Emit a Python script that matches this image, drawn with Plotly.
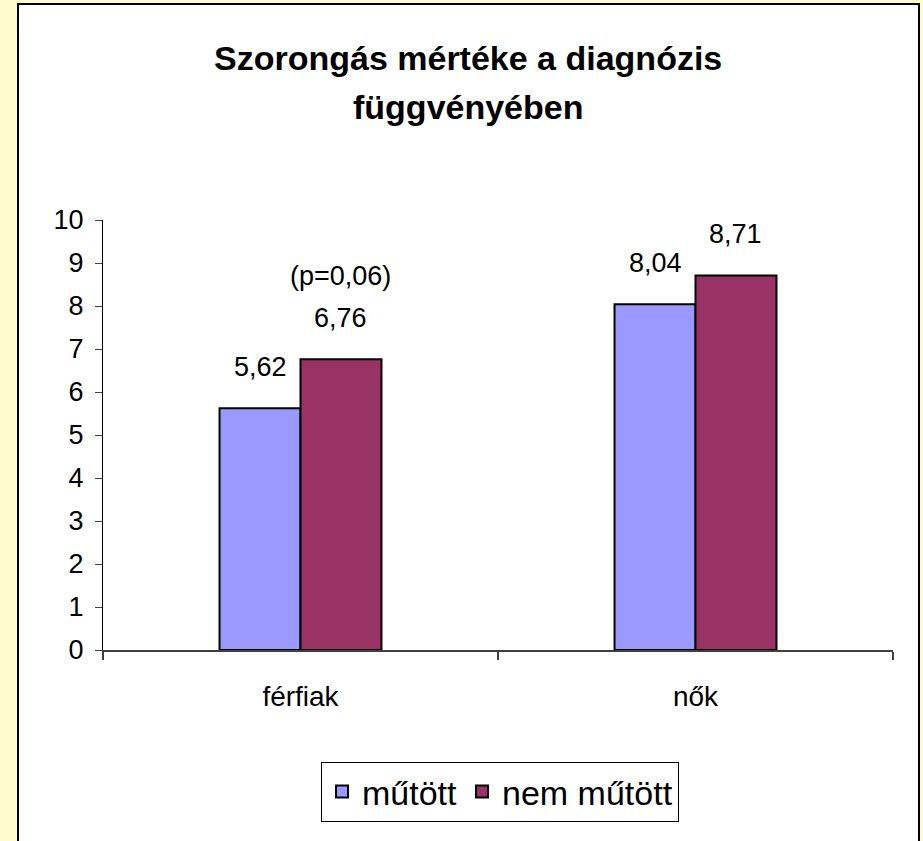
import plotly.graph_objects as go

categories = ["férfiak", "nők"]
series_names = ["műtött", "nem műtött"]
mutott = [5.62, 8.04]
nem_mutott = [6.76, 8.71]
series_colors = ["#9999FF", "#993366"]
y_ticks = list(range(0, 11))
title_lines = ["Szorongás mértéke a diagnózis", "függvényében"]
p_note = "(p=0,06)"

FONT = "Liberation Sans, Arial, sans-serif"
BG = "#FFFBCC"

# plot-area pixel geometry (923x841 canvas)
L, R, T, B = 103, 30, 220, 191
W = 923 - L - R
H = 841 - T - B

def px_x(p):
    return (p - L) / W

def px_y(p):
    return (841 - B - p) / H

fig = go.Figure()
for name, vals, col in zip(series_names, [mutott, nem_mutott], series_colors):
    fig.add_trace(go.Bar(
        x=categories, y=vals, name=name,
        marker=dict(color=col, line=dict(color="#000000", width=2)),
    ))

bargap = 0.59
bar_px = W / len(categories) * (1 - bargap) / 2

annotations = []
for vals, sgn in [(mutott, -1), (nem_mutott, 1)]:
    for c, v in zip(categories, vals):
        annotations.append(dict(
            x=c, y=v, xref="x", yref="y",
            text=f"{v:.2f}".replace(".", ","),
            showarrow=False, xshift=sgn * bar_px / 2, yshift=41,
            yanchor="middle",
            font=dict(family=FONT, size=27, color="#000000"),
        ))
annotations.append(dict(
    x=categories[0], y=nem_mutott[0], xref="x", yref="y",
    text=p_note, showarrow=False, xshift=bar_px / 2, yshift=83,
    yanchor="middle",
    font=dict(family=FONT, size=27, color="#000000"),
))
for line, py in zip(title_lines, [58, 107]):
    annotations.append(dict(
        x=px_x(468), y=px_y(py), xref="paper", yref="paper",
        text=f"<b>{line}</b>", showarrow=False,
        xanchor="center", yanchor="middle",
        font=dict(family=FONT, size=34, color="#000000"),
    ))

shapes = [dict(
    type="rect", xref="paper", yref="paper", layer="below",
    x0=px_x(18), x1=px_x(919), y0=px_y(860), y1=px_y(4),
    fillcolor="#FFFFFF", line=dict(color="#000000", width=2),
)]

fig.update_layout(
    width=923, height=841,
    margin=dict(l=L, r=R, t=T, b=B, pad=0),
    paper_bgcolor=BG,
    plot_bgcolor="rgba(0,0,0,0)",
    barmode="group", bargap=bargap, bargroupgap=0,
    font=dict(family=FONT, size=26, color="#000000"),
    showlegend=True,
    legend=dict(
        orientation="h", x=px_x(500), xanchor="center",
        y=px_y(762), yanchor="top",
        bgcolor="#FFFFFF", bordercolor="#000000", borderwidth=1,
        font=dict(family=FONT, size=34, color="#000000"),
        itemclick=False,
    ),
    xaxis=dict(
        type="category", tickson="boundaries",
        ticks="outside", ticklen=8, tickcolor="#404040", tickwidth=2,
        showline=True, linecolor="#404040", linewidth=2,
        showgrid=False, zeroline=False,
        ticklabelstandoff=20,
        tickfont=dict(family=FONT, size=28),
        fixedrange=True,
    ),
    yaxis=dict(
        range=[0, 10], tickvals=y_ticks,
        ticks="outside", ticklen=7, tickcolor="#404040",
        showline=True, linecolor="#000000", linewidth=1,
        showgrid=False, zeroline=False,
        ticklabelstandoff=6,
        tickfont=dict(family=FONT, size=27),
        fixedrange=True,
    ),
    annotations=annotations,
    shapes=shapes,
)

fig.write_html(
    "out.html",
    config={"displayModeBar": False},
    post_script=(
        "document.body.style.margin='0';"
        f"document.body.style.background='{BG}';"
        "document.body.style.overflow='hidden';"
    ),
)
